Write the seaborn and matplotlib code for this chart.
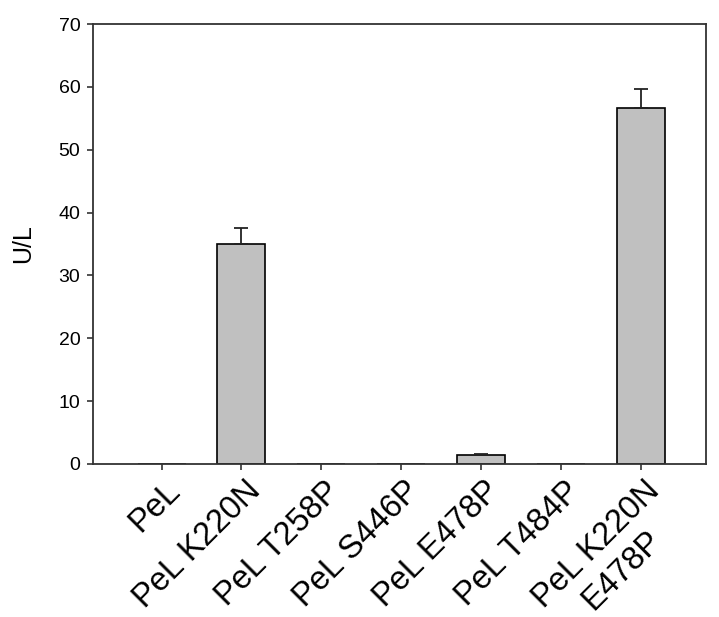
import matplotlib
matplotlib.use("Agg")
import matplotlib.pyplot as plt
import matplotlib.transforms as mtransforms
import seaborn as sns
import pandas as pd
import numpy as np

categories = ["PeL", "PeL K220N", "PeL T258P", "PeL S446P", "PeL E478P", "PeL T484P", "PeL K220N\nE478P"]
values = [0.0, 35.0, 0.0, 0.0, 1.43, 0.0, 56.6]
errors = [0.0, 2.55, 0.0, 0.0, 0.15, 0.0, 3.05]
yticks = [0, 10, 20, 30, 40, 50, 60, 70]

sns.set_theme(style="white")
plt.rcParams['font.family'] = ['Liberation Sans', 'DejaVu Sans']
plt.rcParams['text.color'] = 'black'
plt.rcParams['axes.labelcolor'] = 'black'
plt.rcParams['xtick.color'] = 'black'
plt.rcParams['ytick.color'] = 'black'

df = pd.DataFrame({"cat": categories, "val": values})

fig = plt.figure(figsize=(7.19, 6.17), dpi=100)
ax = fig.add_axes([0.129, 0.248, 0.853, 0.713])

sns.barplot(data=df, x="cat", y="val", order=categories, color="#c0c0c0",
            saturation=1, edgecolor="black", linewidth=1.2, width=0.6,
            errorbar=None, ax=ax)

xs = np.arange(len(categories))
vals = np.array(values)
errs = np.array(errors)
mask = errs > 0
ax.errorbar(xs[mask], vals[mask], yerr=[np.zeros(mask.sum()), errs[mask]],
            fmt="none", ecolor="#222222", elinewidth=1.3, capsize=4.7, capthick=1.3)

ax.set_ylim(0, 70)
ax.set_xlim(-0.86, 6.81)
ax.set_yticks(yticks)
ax.set_yticklabels([str(t) for t in yticks], fontsize=14)
ax.set_ylabel("U/L", fontsize=18, labelpad=17)
ax.set_xlabel("")

for s in ax.spines.values():
    s.set_visible(True)
    s.set_color("#333333")
    s.set_linewidth(1.3)

ax.tick_params(axis="both", direction="out", length=4, width=1.2, color="#333333",
               left=True, bottom=True)
ax.tick_params(axis="y", pad=5)

ax.set_xticks(xs)
ax.set_xticklabels(categories, fontsize=23.5, rotation=45, ha="right",
                   rotation_mode="anchor", multialignment="center")
offset = mtransforms.ScaledTranslation(3/100, -1/100, fig.dpi_scale_trans)
for lab in ax.get_xticklabels():
    lab.set_transform(lab.get_transform() + offset)

fig.savefig("out.png", dpi=100)
